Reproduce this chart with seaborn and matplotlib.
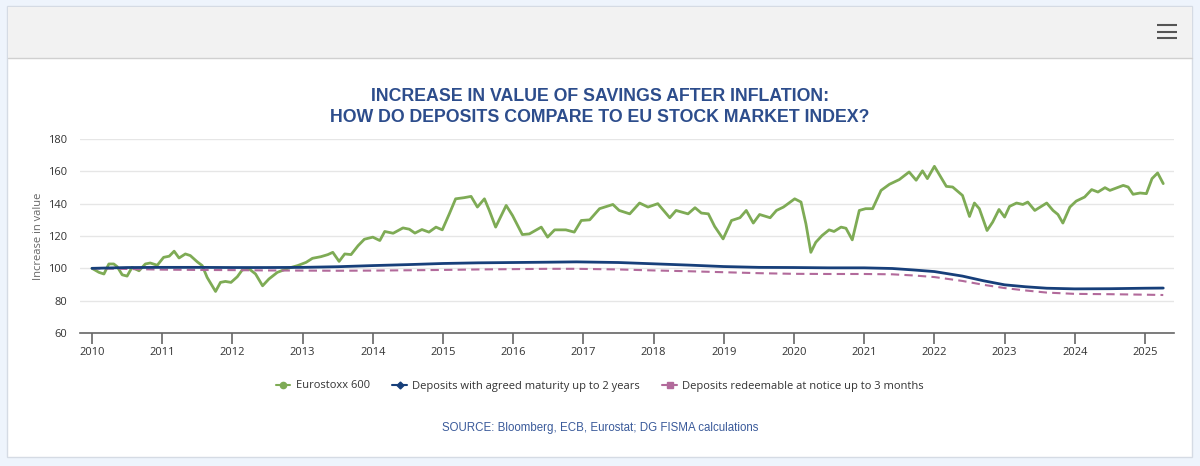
import numpy as np
import pandas as pd
import matplotlib
matplotlib.use("Agg")
import matplotlib.pyplot as plt
from matplotlib.lines import Line2D
from matplotlib.patches import Rectangle
import seaborn as sns

# ---------------- data ----------------
stoxx_t = [2010.0, 2010.1, 2010.17, 2010.24, 2010.31, 2010.36, 2010.43, 2010.5, 2010.57, 2010.67,
           2010.76, 2010.83, 2010.93, 2011.02, 2011.1, 2011.17, 2011.24, 2011.33, 2011.4, 2011.5,
           2011.57, 2011.64, 2011.76, 2011.83, 2011.9, 2011.98, 2012.07, 2012.14, 2012.24, 2012.33,
           2012.43, 2012.52, 2012.64, 2012.79, 2012.93, 2013.05, 2013.14, 2013.26, 2013.36, 2013.43,
           2013.52, 2013.6, 2013.69, 2013.79, 2013.88, 2014.0, 2014.1, 2014.17, 2014.29, 2014.43,
           2014.52, 2014.6, 2014.7, 2014.8, 2014.9, 2014.99, 2015.09, 2015.18, 2015.3, 2015.4,
           2015.49, 2015.59, 2015.66, 2015.75, 2015.9, 2015.99, 2016.13, 2016.23, 2016.4, 2016.49,
           2016.59, 2016.75, 2016.87, 2016.97, 2017.09, 2017.23, 2017.42, 2017.51, 2017.66, 2017.8,
           2017.92, 2018.06, 2018.23, 2018.32, 2018.49, 2018.59, 2018.68, 2018.78, 2018.87, 2018.99,
           2019.11, 2019.23, 2019.32, 2019.42, 2019.51, 2019.66, 2019.75, 2019.85, 2020.01, 2020.1,
           2020.17, 2020.24, 2020.31, 2020.4, 2020.5, 2020.57, 2020.67, 2020.74, 2020.83, 2020.93,
           2021.02, 2021.12, 2021.24, 2021.36, 2021.5, 2021.64, 2021.74, 2021.83, 2021.9, 2022.0,
           2022.17, 2022.26, 2022.4, 2022.5, 2022.57, 2022.64, 2022.75, 2022.83, 2022.92, 2023.0,
           2023.07, 2023.17, 2023.26, 2023.33, 2023.43, 2023.6, 2023.69, 2023.76, 2023.83, 2023.93,
           2024.02, 2024.14, 2024.24, 2024.33, 2024.43, 2024.5, 2024.69, 2024.76, 2024.83, 2024.93,
           2025.02, 2025.1, 2025.18, 2025.26]
stoxx_v = [100.0, 97.5, 96.5, 102.7, 102.7, 101.0, 96.0, 95.2, 100.6, 98.5,
           102.7, 103.3, 101.9, 106.8, 107.5, 110.6, 106.4, 108.9, 107.9, 104.0,
           101.7, 94.4, 85.7, 91.3, 91.9, 91.3, 94.8, 99.0, 99.6, 96.5,
           89.2, 93.4, 97.5, 100.0, 101.7, 103.7, 106.2, 107.2, 108.5, 109.9,
           104.3, 108.9, 108.5, 114.0, 118.0, 119.3, 117.2, 122.8, 121.7, 125.0,
           124.2, 121.8, 124.0, 122.4, 125.5, 123.8, 133.7, 143.0, 143.7, 144.5,
           137.9, 143.0, 135.8, 125.5, 138.9, 132.7, 120.9, 121.3, 125.5, 119.3,
           123.8, 123.8, 122.4, 129.6, 130.0, 136.9, 139.5, 135.8, 133.7, 140.4,
           137.9, 140.0, 131.3, 135.8, 133.7, 137.5, 134.2, 133.7, 125.9, 118.2,
           129.6, 131.3, 135.8, 128.0, 133.3, 131.3, 135.8, 137.9, 143.0, 141.0,
           127.5, 109.9, 116.1, 120.3, 123.8, 122.8, 125.5, 124.8, 117.6, 135.8,
           136.9, 136.9, 148.2, 152.0, 154.9, 159.6, 154.5, 160.3, 155.5, 163.1,
           150.7, 150.3, 145.1, 132.1, 140.4, 136.9, 123.4, 128.6, 136.4, 131.7,
           138.3, 140.4, 139.5, 141.0, 135.8, 140.4, 135.8, 133.3, 128.0, 137.9,
           141.6, 144.1, 148.7, 147.2, 149.9, 148.2, 151.3, 150.3, 145.8, 146.6,
           146.2, 155.5, 159.0, 152.4]

dep_t = [2010.0, 2010.5, 2011.0, 2011.5, 2012.0, 2012.5, 2013.0, 2013.5, 2014.0, 2014.5,
         2015.0, 2015.5, 2016.0, 2016.5, 2016.9, 2017.5, 2018.0, 2018.5, 2019.0, 2019.5,
         2020.0, 2020.5, 2021.0, 2021.4, 2021.7, 2022.0, 2022.4, 2022.7, 2023.0, 2023.3,
         2023.6, 2024.0, 2024.5, 2025.0, 2025.26]
agreed_v = [100.0, 100.5, 100.6, 100.6, 100.5, 100.5, 100.6, 101.0, 101.7, 102.3,
            103.0, 103.4, 103.6, 103.8, 104.0, 103.6, 102.8, 102.0, 101.1, 100.6,
            100.5, 100.3, 100.3, 99.9, 99.0, 98.0, 95.2, 92.3, 89.8, 88.6,
            87.7, 87.3, 87.4, 87.7, 87.8]
notice_v = [100.0, 99.6, 99.2, 99.0, 98.9, 98.7, 98.6, 98.5, 98.6, 98.8,
            99.0, 99.3, 99.5, 99.7, 99.7, 99.3, 98.7, 98.2, 97.6, 97.0,
            96.6, 96.5, 96.5, 96.3, 95.6, 94.6, 92.2, 89.8, 87.8, 86.3,
            85.0, 84.2, 84.0, 83.7, 83.5]

year_ticks = list(range(2010, 2026))
y_ticks = [60, 80, 100, 120, 140, 160, 180]

labels = ["Eurostoxx 600",
          "Deposits with agreed maturity up to 2 years",
          "Deposits redeemable at notice up to 3 months"]
title = "INCREASE IN VALUE OF SAVINGS AFTER INFLATION:\nHOW DO DEPOSITS COMPARE TO EU STOCK MARKET INDEX?"
source = "SOURCE: Bloomberg, ECB, Eurostat; DG FISMA calculations"
ylabel = "Increase in value"

# ---------------- style ----------------
sns.set_theme(style="white")
plt.rcParams['font.family'] = ['Open Sans', 'DejaVu Sans']

GREEN = "#7eab55"
NAVY = "#173f7a"
PINK = "#b26a9b"
TITLE_C = "#2d4d8c"

W, H = 1200, 466
fig = plt.figure(figsize=(W / 100, H / 100), dpi=100)
fig.patch.set_facecolor("#eef4fc")

def px(x0, y0, w, h):
    return [x0 / W, 1 - (y0 + h) / H, w / W, h / H]

# panel
panel = fig.add_axes([0, 0, 1, 1], zorder=-5)
panel.set_xlim(0, W); panel.set_ylim(H, 0); panel.axis("off")
panel.add_patch(Rectangle((7, 6), 1185, 451, facecolor="white", edgecolor="#d5dbe4", lw=1))
panel.add_patch(Rectangle((7.5, 6.5), 1184, 51.5, facecolor="#f2f2f2", edgecolor="none"))
panel.plot([7.5, 1191.5], [58, 58], color="#d0d0d0", lw=1)
for yy in (25, 31.5, 38):
    panel.plot([1157, 1177], [yy, yy], color="#555555", lw=1.5, solid_capstyle="butt")

# main axes: x px 80..1174, y px 139..333
ax = fig.add_axes(px(80, 139, 1094, 194))
x_left = 2010 - 12 / 70.2
x_right = 2010 + (1174 - 92) / 70.2

df_s = pd.DataFrame({"t": stoxx_t, "v": stoxx_v})
df_d = pd.DataFrame({"t": dep_t, "a": agreed_v, "n": notice_v})

sns.lineplot(data=df_s, x="t", y="v", ax=ax, color=GREEN, lw=2.0)
sns.lineplot(data=df_d, x="t", y="n", ax=ax, color=PINK, lw=1.5, linestyle=(0, (4, 2.5)))
sns.lineplot(data=df_d, x="t", y="a", ax=ax, color=NAVY, lw=2.0)

ax.set_xlim(x_left, x_right)
ax.set_ylim(60, 180)
ax.set_xticks(year_ticks)
ax.set_xticklabels([str(y) for y in year_ticks])
ax.set_yticks(y_ticks)
ax.grid(axis="y", color="#e6e6e6", lw=1)
ax.set_axisbelow(True)
for s in ("top", "right", "left"):
    ax.spines[s].set_visible(False)
ax.spines["bottom"].set_color("#666666")
ax.spines["bottom"].set_linewidth(1.2)
ax.tick_params(axis="x", bottom=True, length=8, width=1.2, color="#666666",
               labelsize=8, labelcolor="#333333", pad=2)
ax.tick_params(axis="y", left=False, length=0, labelsize=8, labelcolor="#333333", pad=9)
ax.set_xlabel("")
ax.set_ylabel(ylabel, fontsize=8, color="#666666", labelpad=3)
ax.set_facecolor("none")

# title
fig.text(600 / W, 1 - 107 / H, title, ha="center", va="center", fontsize=12.8,
         fontweight="bold", color=TITLE_C, linespacing=1.25,
         family=['Liberation Sans', 'DejaVu Sans'])

# legend
handles = [Line2D([], [], color=GREEN, marker="o", markersize=4.5, lw=1.5),
           Line2D([], [], color=NAVY, marker="D", markersize=3.5, lw=1.5),
           Line2D([], [], color=PINK, marker="s", markersize=4.5, lw=1.5)]
fig.legend(handles, labels, loc="center", bbox_to_anchor=(600 / W, 1 - 386 / H),
           ncol=3, frameon=False, fontsize=8, handlelength=1.3, handletextpad=0.5,
           columnspacing=2.0, labelcolor="#333333")

fig.text(600 / W, 1 - 428 / H, source, ha="center", va="center", fontsize=8.3,
         color="#3a5a9a", family=['Liberation Sans', 'DejaVu Sans'])

fig.savefig("out.png", dpi=100, facecolor=fig.get_facecolor())
